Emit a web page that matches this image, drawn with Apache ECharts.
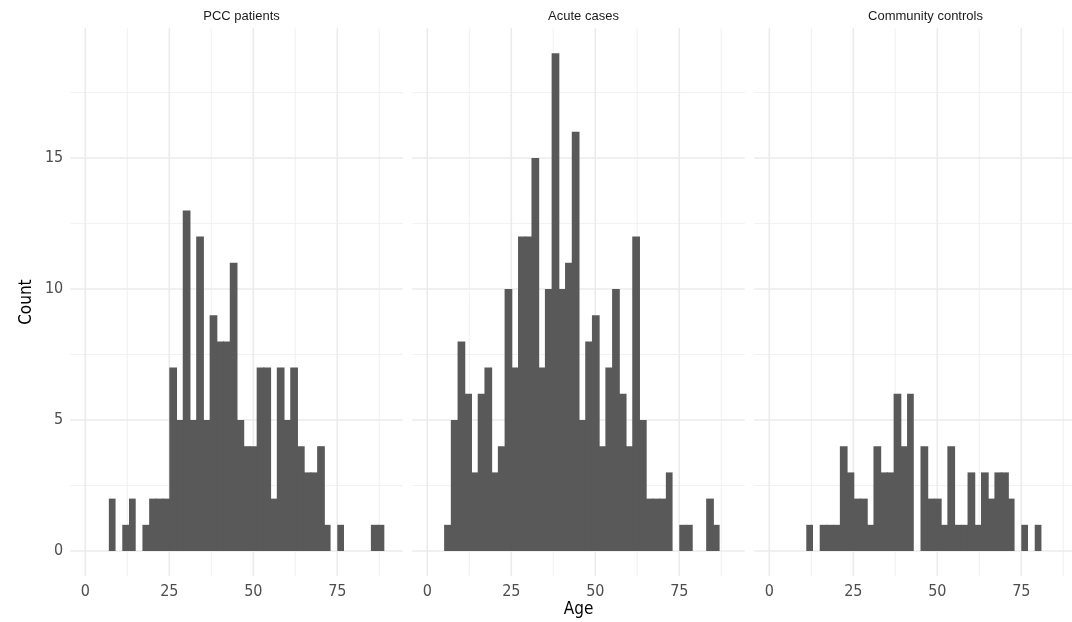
<!DOCTYPE html>
<html>
<head>
<meta charset="utf-8">
<title>Age distribution by group</title>
<script src="https://cdn.jsdelivr.net/npm/echarts@6/dist/echarts.min.js"></script>
<style>
  html, body { margin: 0; padding: 0; background: #ffffff; }
  #chart { width: 1072px; height: 622px; }
</style>
</head>
<body>
<div id="chart"></div>
<script>
// Facet titles
const panelTitles = ['PCC patients', 'Acute cases', 'Community controls'];

// Histogram bins: left edge of each 2-year bin
const binWidth = 2;
const binStarts = [5, 7, 9, 11, 13, 15, 17, 19, 21, 23, 25, 27, 29, 31, 33, 35, 37, 39, 41, 43, 45,
                   47, 49, 51, 53, 55, 57, 59, 61, 63, 65, 67, 69, 71, 73, 75, 77, 79, 81, 83, 85, 87];

// Counts per bin for each group
const pccCounts = [0, 2, 0, 1, 2, 0, 1, 2, 2, 2, 7, 5, 13, 5, 12, 5, 9, 8, 8, 11, 5,
                   4, 4, 7, 7, 2, 7, 5, 7, 4, 3, 3, 4, 1, 0, 1, 0, 0, 0, 0, 1, 1];
const acuteCounts = [1, 5, 8, 6, 3, 6, 7, 3, 4, 10, 7, 12, 12, 15, 7, 10, 19, 10, 11, 16, 5,
                     8, 9, 4, 7, 10, 6, 4, 12, 5, 2, 2, 2, 3, 0, 1, 1, 0, 0, 2, 1, 0];
const controlCounts = [0, 0, 0, 1, 0, 1, 1, 1, 4, 3, 2, 2, 1, 4, 3, 3, 6, 4, 6, 0, 4,
                       2, 2, 1, 4, 1, 1, 3, 1, 3, 2, 3, 3, 2, 0, 1, 0, 1, 0, 0, 0, 0];

// Tick values and grid lines
const xTicks = [0, 25, 50, 75];
const xMinorTicks = [12.5, 37.5, 62.5, 87.5];
const yTicks = [0, 5, 10, 15];
const yMinorTicks = [2.5, 7.5, 12.5, 17.5];

const groupCounts = [pccCounts, acuteCounts, controlCounts];

// Axis ranges (data range plus a small padding)
const X_MIN = -4.5, X_MAX = 94.5;
const Y_MIN = -0.95, Y_MAX = 19.95;

// Panel geometry
const panelLefts = [70.2, 412.2, 754.2];
const panelWidth = 332.6;
const panelTop = 28.3;
const panelHeight = 547.6;

const BAR_FILL = '#595959';
const GRID_COLOR = '#ebebeb';
const TICK_COLOR = '#4d4d4d';
const NARROW = "'Liberation Sans Narrow', 'DejaVu Sans Condensed', 'Liberation Sans', Arial, sans-serif";
const REGULAR = "'Liberation Sans', Arial, Helvetica, sans-serif";

function barItems(counts) {
  return binStarts.map((s, i) => [s, s + binWidth, counts[i]]);
}

function gridItems() {
  const items = [];
  xMinorTicks.forEach(v => items.push([v, 0, 0]));
  yMinorTicks.forEach(v => items.push([v, 1, 0]));
  xTicks.forEach(v => items.push([v, 0, 1]));
  yTicks.forEach(v => items.push([v, 1, 1]));
  return items;
}

// Bars of neighbouring bins touch; a bar whose right neighbour is filled
// reaches one pixel into it so no seam shows between them.
function makeBarRenderer(counts) {
  return function (params, api) {
    const x0 = api.value(0), x1 = api.value(1), n = api.value(2);
    if (!n) return null;
    const a = api.coord([x0, 0]);
    const b = api.coord([x1, n]);
    const next = counts[params.dataIndex + 1];
    const extra = next ? 1 : 0;
    return {
      type: 'rect',
      shape: { x: a[0], y: b[1], width: b[0] - a[0] + extra, height: a[1] - b[1] },
      style: { fill: BAR_FILL }
    };
  };
}

function renderGridLine(params, api) {
  const v = api.value(0), horizontal = api.value(1), major = api.value(2);
  const cs = params.coordSys;
  let shape;
  if (horizontal) {
    const y = api.coord([0, v])[1];
    shape = { x1: cs.x, y1: y, x2: cs.x + cs.width, y2: y };
  } else {
    const x = api.coord([v, 0])[0];
    shape = { x1: x, y1: cs.y, x2: x, y2: cs.y + cs.height };
  }
  return {
    type: 'line',
    shape: shape,
    style: { stroke: GRID_COLOR, lineWidth: major ? 1.6 : 0.8, opacity: major ? 1 : 0.9 }
  };
}

const grids = [], xAxes = [], yAxes = [], series = [], titles = [];

panelTitles.forEach((name, i) => {
  grids.push({
    left: panelLefts[i], top: panelTop, width: panelWidth, height: panelHeight,
    outerBoundsMode: 'none', containLabel: false
  });

  xAxes.push({
    gridIndex: i,
    type: 'value',
    min: X_MIN, max: X_MAX,
    minInterval: 25, maxInterval: 25,
    axisLine: { show: false }, axisTick: { show: false },
    splitLine: { show: false },
    axisLabel: {
      interval: 0,
      showMinLabel: false, showMaxLabel: false,
      color: TICK_COLOR, fontFamily: NARROW, fontSize: 16, margin: 8,
      formatter: v => (xTicks.indexOf(v) >= 0 ? String(v) : '')
    },
    name: i === 1 ? 'Age' : '',
    nameLocation: 'middle',
    nameGap: 25,
    nameMoveOverlap: false,
    nameTextStyle: { color: '#000000', fontFamily: NARROW, fontSize: 17 }
  });

  yAxes.push({
    gridIndex: i,
    type: 'value',
    min: Y_MIN, max: Y_MAX,
    minInterval: 5, maxInterval: 5,
    axisLine: { show: false }, axisTick: { show: false },
    splitLine: { show: false },
    axisLabel: {
      show: i === 0,
      interval: 0,
      showMinLabel: false, showMaxLabel: false,
      color: TICK_COLOR, fontFamily: NARROW, fontSize: 16, margin: 7,
      formatter: v => (yTicks.indexOf(v) >= 0 ? String(v) : '')
    },
    name: i === 0 ? 'Count' : '',
    nameLocation: 'middle',
    nameRotate: 90,
    nameGap: 35,
    nameMoveOverlap: false,
    nameTextStyle: { color: '#000000', fontFamily: NARROW, fontSize: 17 }
  });

  series.push({
    type: 'custom',
    name: name + ' grid',
    xAxisIndex: i, yAxisIndex: i,
    silent: true,
    z: 1,
    renderItem: renderGridLine,
    data: gridItems()
  });

  series.push({
    type: 'custom',
    name: name,
    xAxisIndex: i, yAxisIndex: i,
    z: 3,
    renderItem: makeBarRenderer(groupCounts[i]),
    encode: { x: [0, 1], y: 2 },
    data: barItems(groupCounts[i])
  });

  titles.push({
    text: name,
    left: panelLefts[i] + panelWidth / 2,
    top: 5,
    textAlign: 'center',
    textStyle: { color: '#1a1a1a', fontFamily: REGULAR, fontSize: 13, fontWeight: 'normal' }
  });
});

const chart = echarts.init(document.getElementById('chart'), null, { renderer: 'canvas' });
chart.setOption({
  animation: false,
  backgroundColor: '#ffffff',
  title: titles,
  grid: grids,
  xAxis: xAxes,
  yAxis: yAxes,
  series: series
});
</script>
</body>
</html>
